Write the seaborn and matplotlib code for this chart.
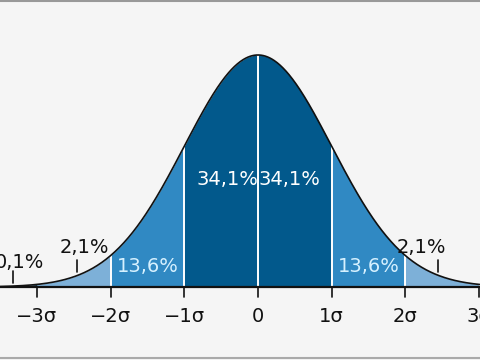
import numpy as np
import matplotlib
matplotlib.use("Agg")
import matplotlib.pyplot as plt
import seaborn as sns
import pandas as pd

# sigma band edges and what each band holds
edges = [-3, -2, -1, 0, 1, 2, 3]
band_colors = ["#7db0d8", "#3089c3", "#02598c", "#02598c", "#3089c3", "#7db0d8"]
inner_labels = ["13,6%", "34,1%", "34,1%", "13,6%"]
inner_label_x = [-1.5, -0.42, 0.42, 1.5]
inner_label_y = [0.035, 0.185, 0.185, 0.035]
inner_label_colors = ["#d6f1ff", "white", "white", "#d6f1ff"]
tick_pos = [-3, -2, -1, 0, 1, 2, 3]
tick_labels = ["\u22123\u03c3", "\u22122\u03c3", "\u22121\u03c3", "0", "1\u03c3", "2\u03c3", "3\u03c3"]
tail_labels = ["0,1%", "2,1%", "2,1%"]
tail_label_x = [-3.23, -2.35, 2.21]
tail_label_y = [0.043, 0.068, 0.068]
tail_mark_x = [-3.32, -2.46, 2.44]
tail_mark_y = [(0.007, 0.027), (0.026, 0.047), (0.026, 0.047)]

sns.set_style("white")

x = np.linspace(-3.6, 3.6, 721)
df = pd.DataFrame({"x": x, "pdf": np.exp(-x**2 / 2) / np.sqrt(2 * np.pi)})

fig = plt.figure(figsize=(4.8, 3.6), dpi=100, facecolor="#f5f5f5")
ax = fig.add_axes([0, 0, 1, 1])
ax.set_facecolor("#f5f5f5")

# coloured bands under the curve
for i in range(len(edges) - 1):
    part = df[(df.x >= edges[i]) & (df.x <= edges[i + 1])]
    ax.fill_between(part.x, 0, part.pdf, color=band_colors[i], lw=0)
tail = df[df.x <= -3]
ax.fill_between(tail.x, 0, tail.pdf, color="#0b3550", lw=0)

# white separators
for e in edges[1:-1]:
    ax.plot([e, e], [0, np.exp(-e**2 / 2) / np.sqrt(2 * np.pi)], color="white", lw=1.4)

sns.lineplot(data=df, x="x", y="pdf", color="#111111", lw=1.2, ax=ax)
ax.axhline(0, color="#111111", lw=1.6)

for t, lab in zip(tick_pos, tick_labels):
    ax.plot([t, t], [0, -0.017], color="#111111", lw=1.2)
    ax.text(t, -0.05, lab, ha="center", va="center", fontsize=14, color="#111111")

for xx, yy, lab, c in zip(inner_label_x, inner_label_y, inner_labels, inner_label_colors):
    ax.text(xx, yy, lab, ha="center", va="center", fontsize=14, color=c)

for xx, yy, lab, mx, (m0, m1) in zip(tail_label_x, tail_label_y, tail_labels, tail_mark_x, tail_mark_y):
    ax.text(xx, yy, lab, ha="center", va="center", fontsize=14, color="#111111")
    ax.plot([mx, mx], [m0, m1], color="#111111", lw=1.2)

ax.plot([0, 1], [0.998, 0.998], color="#999999", lw=1.5, transform=ax.transAxes)
ax.plot([0, 1], [0.006, 0.006], color="#aaaaaa", lw=1.5, transform=ax.transAxes)

ax.set_xlim(-3.5, 3.012)
ax.set_ylim(-0.1255, 0.4935)
ax.axis("off")

fig.savefig("out.png", dpi=100, facecolor=fig.get_facecolor())
